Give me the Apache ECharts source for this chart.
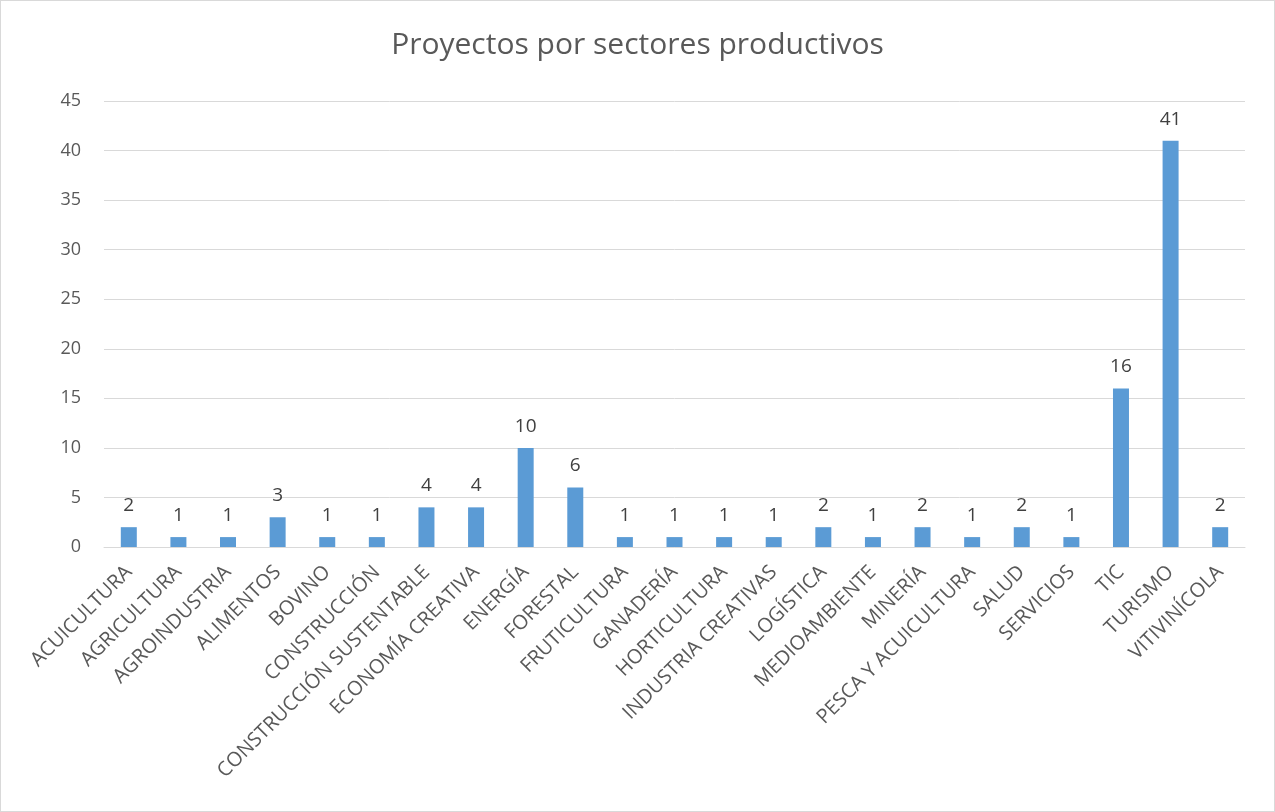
<!DOCTYPE html>
<html><head><meta charset="utf-8">
<script src="https://cdn.jsdelivr.net/npm/echarts@6/dist/echarts.min.js"></script>
<style>
html,body{margin:0;padding:0;background:#fff;}
#c{position:absolute;left:0;top:0;width:1275px;height:812px;box-sizing:border-box;border:1px solid #d9d9d9;}
</style></head>
<body><div id="c"></div>
<script>
const categories = ["ACUICULTURA","AGRICULTURA","AGROINDUSTRIA","ALIMENTOS","BOVINO","CONSTRUCCIÓN","CONSTRUCCIÓN SUSTENTABLE","ECONOMÍA CREATIVA","ENERGÍA","FORESTAL","FRUTICULTURA","GANADERÍA","HORTICULTURA","INDUSTRIA CREATIVAS","LOGÍSTICA","MEDIOAMBIENTE","MINERÍA","PESCA Y ACUICULTURA","SALUD","SERVICIOS","TIC","TURISMO","VITIVINÍCOLA"];
const values = [2,1,1,3,1,1,4,4,10,6,1,1,1,1,2,1,2,1,2,1,16,41,2];
const chart = echarts.init(document.getElementById('c'));
const font = "'Open Sans', 'Noto Sans', sans-serif";
chart.setOption({
  animation:false,
  title:{text:'Proyectos por sectores productivos',left:'center',top:24,textStyle:{fontFamily:font,fontSize:30,fontWeight:'normal',color:'#595959'}},
  grid:{left:103,right:29,top:100,bottom:264,containLabel:false},
  xAxis:{type:'category',data:categories,
    axisLine:{lineStyle:{color:'#d9d9d9',width:1}},axisTick:{show:false},
    axisLabel:{rotate:45,interval:0,fontFamily:font,fontSize:20,color:'#595959',margin:22}},
  yAxis:{type:'value',min:0,max:45,interval:5,
    axisLine:{show:false},axisTick:{show:false},
    splitLine:{lineStyle:{color:'#d9d9d9',width:1}},
    axisLabel:{fontFamily:font,fontSize:18,color:'#595959',margin:23}},
  series:[{type:'bar',data:values,barWidth:16,itemStyle:{color:'#5B9BD5'},
    label:{show:true,position:'top',distance:12,fontFamily:font,fontSize:19,color:'#404040'}}]
});
</script></body></html>
